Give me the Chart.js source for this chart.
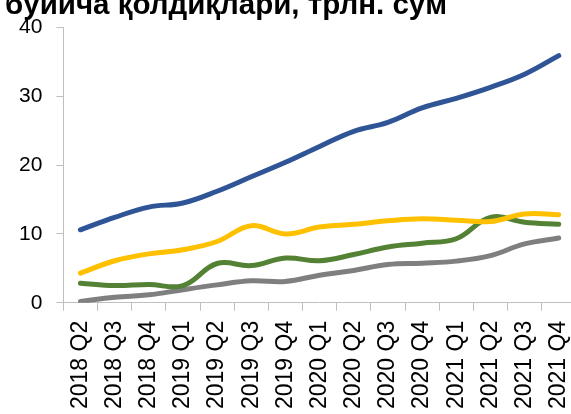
<!DOCTYPE html>
<html>
<head>
<meta charset="utf-8">
<script src="https://cdn.jsdelivr.net/npm/chart.js@4"></script>
<style>
    html, body { margin: 0; padding: 0; background: #fff; overflow: hidden; width: 571px; height: 414px; }
    /* le graphique d'origine est rogné en haut et à droite */
    #wrap { position: absolute; left: -3px; top: -12px; width: 600px; height: 431px; }
</style>
</head>
<body>
<div id="wrap"><canvas id="chart" width="600" height="431"></canvas></div>
<script>
// Données (trlн. сўм)
const labels = ['2018 Q2', '2018 Q3', '2018 Q4', '2019 Q1', '2019 Q2', '2019 Q3', '2019 Q4',
    '2020 Q1', '2020 Q2', '2020 Q3', '2020 Q4', '2021 Q1', '2021 Q2', '2021 Q3', '2021 Q4'];
const blueSeries   = [10.6, 12.4, 13.9, 14.5, 16.2, 18.3, 20.4, 22.7, 24.9, 26.2, 28.3, 29.7, 31.3, 33.2, 35.9];
const yellowSeries = [4.3, 6.1, 7.1, 7.7, 8.9, 11.2, 10.0, 11.0, 11.4, 11.9, 12.2, 12.0, 11.8, 12.9, 12.8];
const greenSeries  = [2.85, 2.5, 2.65, 2.5, 5.7, 5.4, 6.5, 6.1, 7.0, 8.1, 8.65, 9.3, 12.4, 11.7, 11.4];
const greySeries   = [0.2, 0.8, 1.15, 1.9, 2.6, 3.2, 3.1, 4.0, 4.7, 5.55, 5.75, 6.05, 6.85, 8.55, 9.4];
const yTicks = [0, 10, 20, 30, 40];
const titleText = 'бўйича қолдиқлари, трлн. сўм';

const axisColor = '#BFBFBF';

function line(data, color) {
    return {
        data: data,
        borderColor: color,
        backgroundColor: color,
        borderWidth: 5,
        borderCapStyle: 'round',
        borderJoinStyle: 'round',
        tension: 0.4,
        pointRadius: 0,
        fill: false
    };
}

const ctx = document.getElementById('chart').getContext('2d');
new Chart(ctx, {
    type: 'line',
    data: {
        labels: labels,
        datasets: [
            line(blueSeries, '#2F5597'),
            line(yellowSeries, '#FFC000'),
            line(greenSeries, '#548235'),
            line(greySeries, '#7F7F7F')
        ]
    },
    options: {
        responsive: false,
        animation: false,
        layout: { padding: { left: 8, right: 19.5, top: 0, bottom: 0 } },
        plugins: {
            legend: { display: false },
            tooltip: { enabled: false },
            title: {
                display: true,
                text: titleText,
                align: 'start',
                color: '#000',
                font: { family: 'Liberation Sans', size: 29.5, weight: 'bold' },
                padding: { top: 0, bottom: 4 }
            }
        },
        scales: {
            x: {
                type: 'category',
                offset: true,
                grid: {
                    display: true,
                    offset: true,
                    drawOnChartArea: false,
                    drawTicks: true,
                    tickLength: 8,
                    color: axisColor
                },
                border: { color: axisColor, width: 1 },
                ticks: {
                    color: '#000',
                    minRotation: 90,
                    maxRotation: 90,
                    autoSkip: false,
                    padding: 10,
                    font: { family: 'Liberation Sans', size: 23 }
                }
            },
            y: {
                min: 0,
                max: 40,
                afterBuildTicks: (axis) => { axis.ticks = yTicks.map(v => ({ value: v })); },
                grid: {
                    display: true,
                    drawOnChartArea: false,
                    drawTicks: true,
                    tickLength: 7,
                    color: axisColor
                },
                border: { color: axisColor, width: 1 },
                ticks: {
                    color: '#000',
                    padding: 14,
                    font: { family: 'Liberation Sans', size: 21 }
                }
            }
        }
    }
});
</script>
</body>
</html>
